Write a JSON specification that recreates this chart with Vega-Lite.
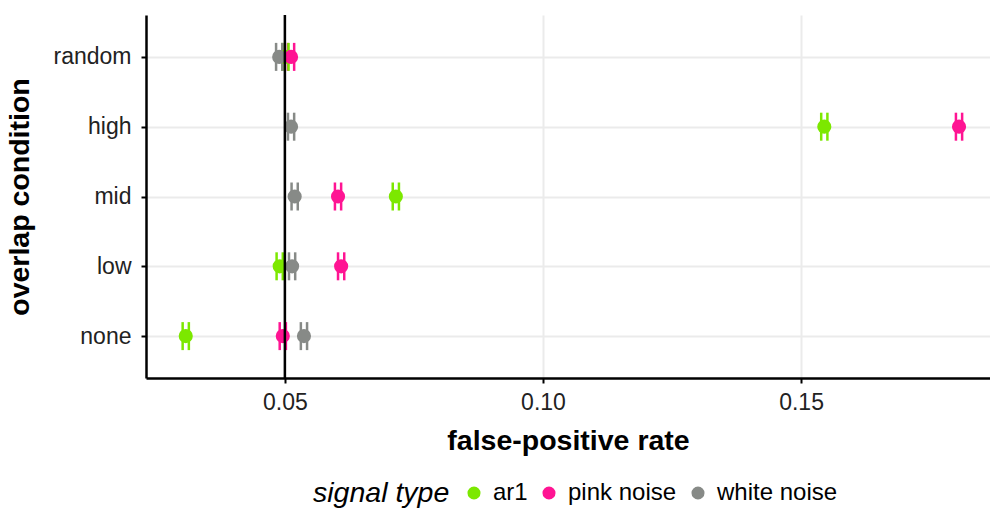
{
  "$schema": "https://vega.github.io/schema/vega-lite/v6.json",
  "width": 844,
  "height": 363,
  "autosize": {"type": "none"},
  "padding": {"left": 146, "top": 15, "right": 0, "bottom": 130},
  "background": "white",
  "config": {
    "view": {"stroke": null},
    "font": "Liberation Sans",
    "axis": {
      "domainColor": "black",
      "domainWidth": 2.5,
      "tickColor": "black",
      "tickWidth": 2,
      "tickSize": 5,
      "gridColor": "#EBEBEB",
      "gridWidth": 2,
      "labelColor": "#222222",
      "labelFontSize": 23,
      "titleFontSize": 28.5,
      "titleFontWeight": "bold",
      "titleColor": "black"
    },
    "legend": {
      "orient": "none",
      "legendX": 167,
      "legendY": 466,
      "direction": "horizontal",
      "titleOrient": "left",
      "titleFontSize": 28.5,
      "titleFontStyle": "italic",
      "titleFontWeight": "normal",
      "titleColor": "black",
      "titlePadding": 12,
      "labelFontSize": 24,
      "labelColor": "black",
      "labelOffset": 7,
      "symbolType": "circle",
      "symbolSize": 170,
      "symbolOpacity": 1,
      "symbolStrokeWidth": 0,
      "columnPadding": 9
    }
  },
  "datasets": {
    "fpr": [
      {"condition": "random", "signal": "ar1", "rate": 0.0501, "lo": 0.0495, "hi": 0.0507},
      {"condition": "random", "signal": "pink noise", "rate": 0.0512, "lo": 0.0506, "hi": 0.0518},
      {"condition": "random", "signal": "white noise", "rate": 0.0489, "lo": 0.0483, "hi": 0.0495},
      {"condition": "high", "signal": "ar1", "rate": 0.1545, "lo": 0.1539, "hi": 0.1551},
      {"condition": "high", "signal": "pink noise", "rate": 0.1806, "lo": 0.18, "hi": 0.1812},
      {"condition": "high", "signal": "white noise", "rate": 0.0512, "lo": 0.0506, "hi": 0.0518},
      {"condition": "mid", "signal": "ar1", "rate": 0.0715, "lo": 0.0709, "hi": 0.0721},
      {"condition": "mid", "signal": "pink noise", "rate": 0.0603, "lo": 0.0597, "hi": 0.0609},
      {"condition": "mid", "signal": "white noise", "rate": 0.0519, "lo": 0.0513, "hi": 0.0525},
      {"condition": "low", "signal": "ar1", "rate": 0.049, "lo": 0.0484, "hi": 0.0496},
      {"condition": "low", "signal": "pink noise", "rate": 0.0609, "lo": 0.0603, "hi": 0.0615},
      {"condition": "low", "signal": "white noise", "rate": 0.0514, "lo": 0.0508, "hi": 0.052},
      {"condition": "none", "signal": "ar1", "rate": 0.0308, "lo": 0.0302, "hi": 0.0314},
      {"condition": "none", "signal": "pink noise", "rate": 0.0496, "lo": 0.049, "hi": 0.0502},
      {"condition": "none", "signal": "white noise", "rate": 0.0537, "lo": 0.0531, "hi": 0.0543}
    ]
  },
  "layer": [
    {
      "data": {"name": "fpr"},
      "mark": {"type": "tick", "size": 28, "thickness": 2.5, "opacity": 1},
      "encoding": {
        "x": {
          "field": "lo", "type": "quantitative",
          "scale": {"domain": [0.0231, 0.1866], "nice": false, "zero": false},
          "axis": {"values": [0.05, 0.1, 0.15], "format": ".2f", "title": "false-positive rate", "titlePadding": 12, "labelPadding": 8}
        },
        "y": {
          "field": "condition", "type": "nominal",
          "sort": ["random", "high", "mid", "low", "none"],
          "scale": {"type": "point", "padding": 0.6},
          "axis": {"title": "overlap condition", "titlePadding": 19, "labelPadding": 10, "grid": true}
        },
        "fill": {
          "field": "signal", "type": "nominal", "title": "signal type",
          "scale": {"domain": ["ar1", "pink noise", "white noise"], "range": ["#7CE800", "#FF1493", "#878A87"]}
        }
      }
    },
    {
      "data": {"name": "fpr"},
      "mark": {"type": "tick", "size": 28, "thickness": 2.5, "opacity": 1},
      "encoding": {
        "x": {"field": "hi", "type": "quantitative"},
        "y": {"field": "condition", "type": "nominal", "sort": ["random", "high", "mid", "low", "none"]},
        "fill": {"field": "signal", "type": "nominal", "title": "signal type"}
      }
    },
    {
      "data": {"name": "fpr"},
      "mark": {"type": "point", "filled": true, "size": 200, "opacity": 1},
      "encoding": {
        "x": {"field": "rate", "type": "quantitative"},
        "y": {"field": "condition", "type": "nominal", "sort": ["random", "high", "mid", "low", "none"]},
        "color": {
          "field": "signal", "type": "nominal", "title": "signal type",
          "scale": {"domain": ["ar1", "pink noise", "white noise"], "range": ["#7CE800", "#FF1493", "#878A87"]}
        }
      }
    },
    {
      "data": {"values": [{"ref": 0.05}]},
      "mark": {"type": "rule", "color": "black", "strokeWidth": 2.5},
      "encoding": {"x": {"field": "ref", "type": "quantitative"}}
    }
  ]
}
